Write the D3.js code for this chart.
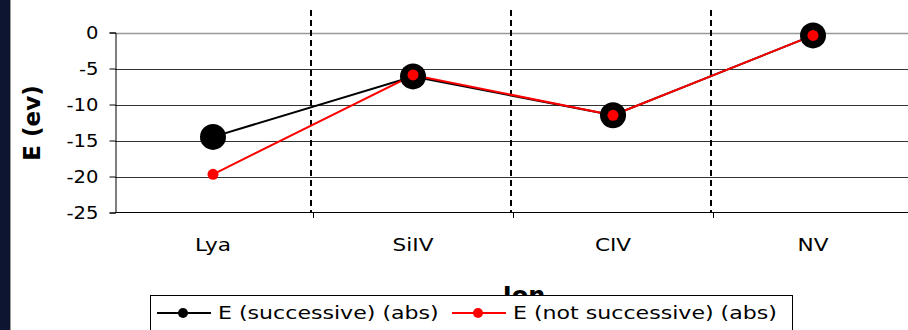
<!DOCTYPE html>
<html>
<head>
<meta charset="utf-8">
<script src="https://cdn.jsdelivr.net/npm/d3@7"></script>
<style>
  body { margin: 0; background: #fff; }
  svg { display: block; }
  text { font-family: "DejaVu Sans", Verdana, sans-serif; fill: #000; }
</style>
</head>
<body>
<div id="chart"></div>
<script>
// data
var ions = ["Lya", "SiIV", "CIV", "NV"];
var eSuccessive = [-14.5, -6.1, -11.5, -0.4];
var eNotSuccessive = [-19.7, -5.9, -11.5, -0.4];
var yTicks = [0, -5, -10, -15, -20, -25];
var seriesNames = ["E (successive) (abs)", "E (not successive) (abs)"];

var W = 908, H = 330;
var svg = d3.select("#chart").append("svg")
    .attr("width", W)
    .attr("height", H);

// the reference text is a bit wider than DejaVu, stretch it horizontally
function stretch(sel, sx) {
  sel.each(function(){
    var t = d3.select(this);
    var tx = +t.attr("x") || 0, ty = +t.attr("y") || 0;
    t.attr("transform", "translate(" + tx + "," + ty + ") scale(" + sx + ",1)")
     .attr("x", 0).attr("y", 0);
  });
}

// dark strip on the left edge
svg.append("rect").attr("x", 0).attr("y", 0).attr("width", 10).attr("height", H).attr("fill", "#0d1530");
svg.append("line").attr("x1", 10.5).attr("x2", 10.5).attr("y1", 0).attr("y2", H).attr("stroke", "#9a9a9a");

var x = d3.scaleBand().domain(ions).range([113, 913]);
var y = d3.scaleLinear().domain([-25, 0]).range([212.5, 32.5]);
var cx = function(d){ return x(d) + x.bandwidth() / 2; };

// horizontal gridlines
svg.append("g").selectAll("line")
    .data(yTicks.filter(function(d){ return d !== -25; }))
    .enter().append("line")
    .attr("x1", 115).attr("x2", W)
    .attr("y1", function(d){ return Math.round(y(d)) + 0.5; })
    .attr("y2", function(d){ return Math.round(y(d)) + 0.5; })
    .attr("stroke", function(d){ return d === 0 ? "#999" : "#333"; })
    .attr("stroke-width", function(d){ return d === 0 ? 1.5 : 1; });

// dashed separators between ions
svg.append("g").selectAll("line")
    .data(ions.slice(1))
    .enter().append("line")
    .attr("x1", function(d){ return x(d) - 2; })
    .attr("x2", function(d){ return x(d) - 2; })
    .attr("y1", 10).attr("y2", 212)
    .attr("stroke", "#000")
    .attr("stroke-width", 2)
    .attr("stroke-dasharray", "6,4");

// y axis
var yAxis = d3.axisLeft(y).tickValues(yTicks).tickSize(6)
    .tickFormat(function(d){ return String(d); });
var gy = svg.append("g")
    .attr("transform", "translate(115.5,0)")
    .call(yAxis);
gy.select(".domain").attr("stroke", "#000");
gy.selectAll(".tick text")
    .attr("x", -17)
    .attr("dy", "0.36em")
    .style("font-size", "17.5px")
    .style("font-family", "DejaVu Sans, Verdana, sans-serif")
    .call(stretch, 1.12);

// x axis: base line + ticks at band boundaries
svg.append("line")
    .attr("x1", 115).attr("x2", W)
    .attr("y1", 212.5).attr("y2", 212.5)
    .attr("stroke", "#000");
svg.append("g").selectAll("line")
    .data(ions.slice(1))
    .enter().append("line")
    .attr("x1", function(d){ return x(d) + 0.5; })
    .attr("x2", function(d){ return x(d) + 0.5; })
    .attr("y1", 212).attr("y2", 218)
    .attr("stroke", "#000");
svg.append("g").selectAll("text")
    .data(ions)
    .enter().append("text")
    .attr("x", cx)
    .attr("y", 251)
    .attr("text-anchor", "middle")
    .style("font-size", "18px")
    .text(function(d){ return d; })
    .call(stretch, 1.2);

// axis titles
svg.append("text")
    .attr("transform", "translate(40,123) rotate(-90)")
    .attr("text-anchor", "middle")
    .style("font-size", "23px")
    .style("font-weight", "bold")
    .text("E (ev)");
svg.append("text")
    .attr("x", 524).attr("y", 304)
    .attr("text-anchor", "middle")
    .style("font-size", "24px")
    .style("font-weight", "bold")
    .text("Ion");

// series
var line = d3.line()
    .x(function(d, i){ return cx(ions[i]); })
    .y(function(d){ return y(d); });

svg.append("path").datum(eSuccessive)
    .attr("d", line).attr("fill", "none")
    .attr("stroke", "#000").attr("stroke-width", 2);
svg.append("path").datum(eNotSuccessive)
    .attr("d", line).attr("fill", "none")
    .attr("stroke", "#ff0000").attr("stroke-width", 2);

svg.append("g").selectAll("circle")
    .data(eSuccessive)
    .enter().append("circle")
    .attr("cx", function(d, i){ return cx(ions[i]); })
    .attr("cy", function(d){ return y(d); })
    .attr("r", 13)
    .attr("fill", "#000");
svg.append("g").selectAll("circle")
    .data(eNotSuccessive)
    .enter().append("circle")
    .attr("cx", function(d, i){ return cx(ions[i]); })
    .attr("cy", function(d){ return y(d); })
    .attr("r", 5.5)
    .attr("fill", "#ff0000");

// legend (covers the bottom of the "Ion" title, as in the original)
var legend = svg.append("g");
legend.append("rect")
    .attr("x", 150.5).attr("y", 295.5)
    .attr("width", 642).attr("height", 50)
    .attr("fill", "#fff").attr("stroke", "#000");

var legendItems = [
  {x: 157, color: "#000", name: seriesNames[0]},
  {x: 452, color: "#ff0000", name: seriesNames[1]}
];
var li = legend.selectAll("g.item")
    .data(legendItems)
    .enter().append("g")
    .attr("class", "item")
    .attr("transform", function(d){ return "translate(" + d.x + ",313)"; });
li.append("line")
    .attr("x1", 0).attr("x2", 54)
    .attr("stroke", function(d){ return d.color; })
    .attr("stroke-width", 2);
li.append("circle")
    .attr("cx", 26).attr("r", 5)
    .attr("fill", function(d){ return d.color; });
li.append("text")
    .attr("x", 61).attr("y", 6)
    .style("font-size", "17px")
    .text(function(d){ return d.name; })
    .call(stretch, 1.3);
</script>
</body>
</html>
